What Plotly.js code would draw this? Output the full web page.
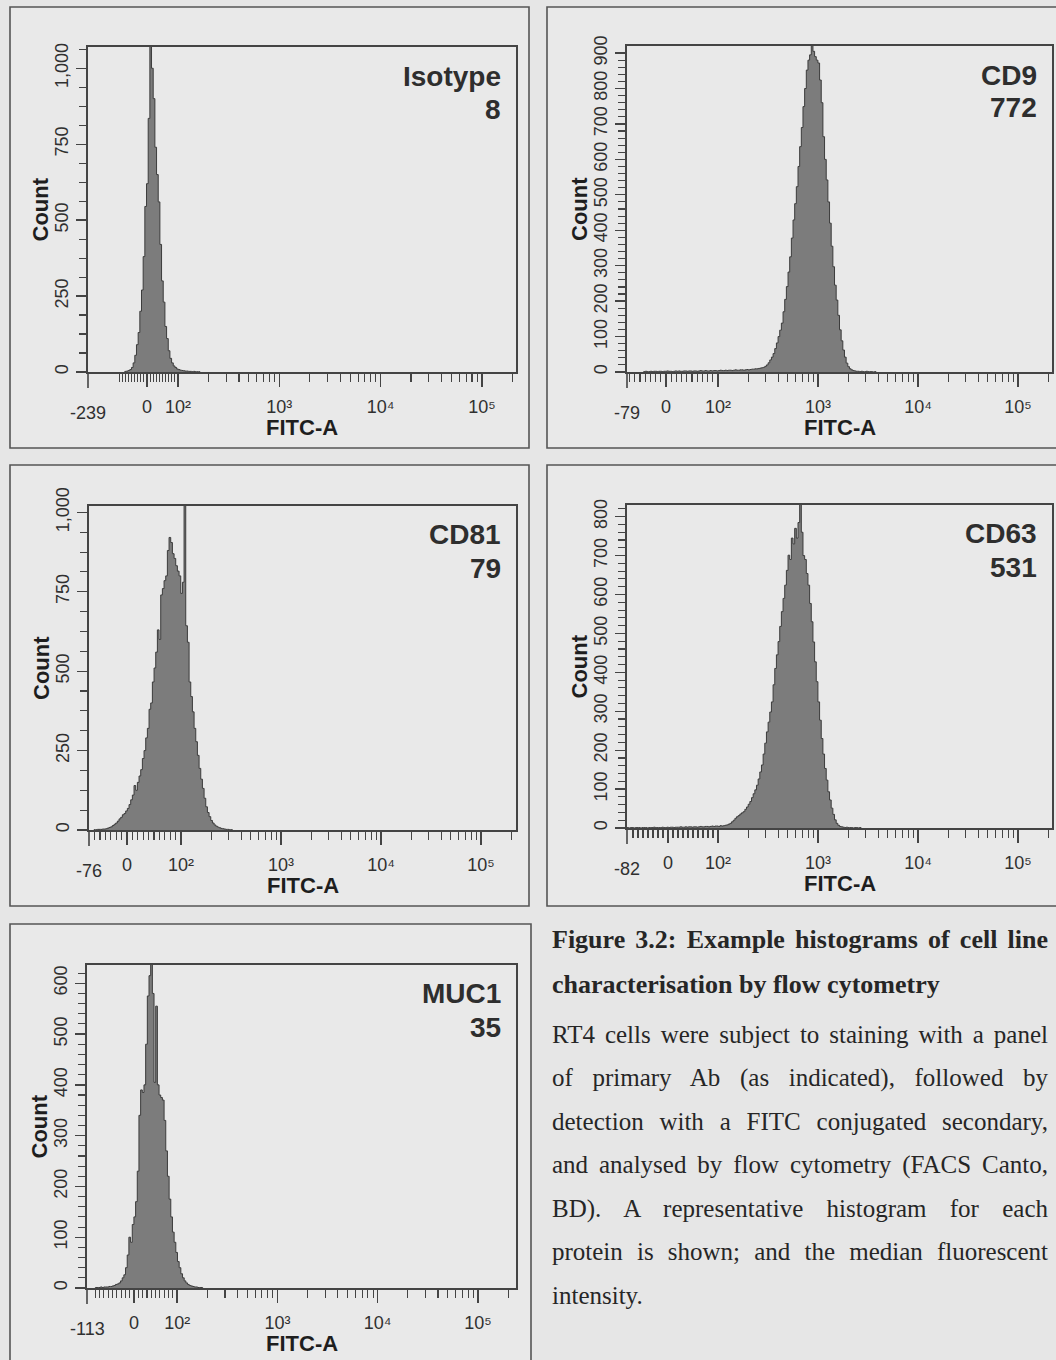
<!DOCTYPE html>
<html><head><meta charset="utf-8">
<script src="https://cdn.plot.ly/plotly-3.0.1.min.js"></script>
<style>
html,body{margin:0;padding:0;background:#e6e6e6;}
#wrap{position:relative;width:1056px;height:1360px;overflow:hidden;}
#chart{position:absolute;left:0;top:0;width:1056px;height:1360px;}
.cap{position:absolute;left:552px;width:496px;height:30px;line-height:30px;font-family:'Liberation Serif','Times New Roman',serif;color:#262626;font-size:25px;}
.j{text-align:justify;text-align-last:justify;}
.b{font-weight:bold;font-size:26px;}
</style></head>
<body><div id="wrap"><div id="chart"></div>
<div class="cap b j" style="top:925px">Figure 3.2: Example histograms of cell line</div>
<div class="cap b" style="top:970px">characterisation by flow cytometry</div>
<div class="cap j" style="top:1020px">RT4 cells were subject to staining with a panel</div>
<div class="cap j" style="top:1063px">of primary Ab (as indicated), followed by</div>
<div class="cap j" style="top:1107px">detection with a FITC conjugated secondary,</div>
<div class="cap j" style="top:1150px">and analysed by flow cytometry (FACS Canto,</div>
<div class="cap j" style="top:1194px">BD). A representative histogram for each</div>
<div class="cap j" style="top:1237px">protein is shown; and the median fluorescent</div>
<div class="cap" style="top:1281px">intensity.</div>
</div>
<script>
// ---------------- data ----------------
const markers = ['Isotype', 'CD9', 'CD81', 'CD63', 'MUC1'];
const medianFI = ['8', '772', '79', '531', '35'];
const axisMin = [-239, -79, -76, -82, -113];
const decadeValues = [0, 100, 1000, 10000, 100000];
const decadeLabels = ['0', '10\u00B2', '10\u00B3', '10\u2074', '10\u2075'];

// histogram counts per display channel (256 channels across each axis)
const isotypeStart = 22;
const isotypeCounts = [2,3,5,8,15,30,55,90,130,200,270,380,545,620,835,1100,1000,900,740,650,560,420,300,230,150,110,70,45,30,20,15,10,8,6,5,4,3,3,2,2,1,2,1,1,1];
const cd9Start = 10;
const cd9Counts = [1,2,1,1,2,1,2,2,1,2, 2,1,2,2,3,2,2,1,2,3, 2,3,2,2,3,3,2,3,3,2, 3,3,2,3,4,3,3,4,3,3,
  4,3,4,4,3,4,5,4,4,5, 4,5,5,4,5,6,5,5,6,6, 5,6,7,6,7,8, 8,9,9,10,11,12,13,16,20,26,34,42,52,66,82,100,118,138,170,205,241,282,325,378,429,475,523,580,636,690,749,800,852,880,895,925,905,890,880,872,824,760,664,600,542,480,420,355,297,245,203,160,119,88,62,42,25,15,9,6,4,3,2,2,1,2,1,1,2,1,1,1,0,1];
const cd81Start = 3;
const cd81Counts = [1,1,2,2,2,3,3,4,6,8,10,14,18,22,28,35,40,48,52,60,68,80,95,110,140,125,150,170,190,225,250,290,320,380,400,466,510,560,630,600,740,760,785,800,880,921,905,870,855,832,815,800,745,780,1100,643,591,466,420,372,320,278,235,194,160,131,100,73,55,42,30,22,16,12,9,7,5,4,3,2,2,1,1];
const cd63Start = 0;
const cd63Counts = [1,0,1,1,0,1,1,1,0,1, 1,1,0,1,1,1,2,1,1,1, 1,2,1,1,2,1,2,2,1,2, 2,2,3,2,2,3,2,3,3,2,
  3,3,2,3,4,3,3,4,4,3, 4,5,4,5,5,4,6,5,6,7, 8,10,12,16,20,25,29,32,36,39, 42,48,54,61,68,78,88,98,110,126,
  144,162,190,218,247,272,298,324,368,410, 445,479,518,556,590,624,662,701,690,745, 730,770,745,785,900,760,700,690,654,624,
  577,530,478,427,376,324,277,230,190,153, 123,93,72,51,35,21,12,7,4,3, 2,1,2,1,1,1,0,1,1,0,1];
const muc1Start = 5;
const muc1Counts = [1,1,1,2,1,2,2,2,3,3,4,5,7,8,10,14,20,26,40,65,100,90,125,140,170,230,340,390,385,400,480,575,615,660,580,405,555,400,380,375,370,330,270,220,175,140,110,90,70,52,40,28,20,14,10,7,5,4,3,2,2,1,1,1];

// count-axis tick labels
const countTicksA = [0, 250, 500, 750, 1000];
const countLabelsA = ['0', '250', '500', '750', '1,000'];
const countTicksB = [0, 100, 200, 300, 400, 500, 600, 700, 800, 900];
const countTicksC = [0, 100, 200, 300, 400, 500, 600, 700, 800];
const countTicksD = [0, 100, 200, 300, 400, 500, 600];

// ---------------- panel configuration (scale + layout) ----------------
const W = 1056, H = 1360;
const panels = [
  {i:0, start: isotypeStart, counts: isotypeCounts, yMax: 1070, yT: countTicksA, yL: countLabelsA, yMinor: 62.5,
   k: 0.306, dmin: -0.582, dmax: 3.643, rect: [88, 47, 516, 372], box: [10, 7, 529, 448]},
  {i:1, start: cd9Start, counts: cd9Counts, yMax: 920, yT: countTicksB, yL: countTicksB.map(String), yMinor: 20,
   k: 0.52, dmin: -0.39, dmax: 3.86, rect: [627, 46, 1052, 372], box: [547, 7, 1080, 448]},
  {i:2, start: cd81Start, counts: cd81Counts, yMax: 1020, yT: countTicksA, yL: countLabelsA, yMinor: 62.5,
   k: 0.54, dmin: -0.38, dmax: 3.89, rect: [89, 506, 516, 830], box: [10, 465, 529, 906]},
  {i:3, start: cd63Start, counts: cd63Counts, yMax: 830, yT: countTicksC, yL: countTicksC.map(String), yMinor: 20,
   k: 0.50, dmin: -0.41, dmax: 3.84, rect: [627, 505, 1052, 828], box: [547, 465, 1080, 906]},
  {i:4, start: muc1Start, counts: muc1Counts, yMax: 636, yT: countTicksD, yL: countTicksD.map(String), yMinor: 20,
   k: 0.43, dmin: -0.469, dmax: 3.81, rect: [87, 965, 516, 1288], box: [10, 924, 531, 1390]}
];

const NCH = 256;
function disp(v, k) {
  const a = Math.abs(v);
  const d = a <= 100 ? k * a / 100 : k + Math.log10(a / 100);
  return v < 0 ? -d : d;
}
function chan(v, p) { return (disp(v, p.k) - p.dmin) / (p.dmax - p.dmin) * NCH; }
const px = x => x / W, py = y => 1 - y / H;

const tickFont = {family: 'Liberation Sans, Arial, DejaVu Sans, sans-serif', size: 18, color: '#303030'};
const titleFont = {family: 'Liberation Sans Narrow, Arial Narrow, Liberation Sans, Arial, sans-serif', size: 22, color: '#1e1e1e'};
const nameFont = {family: 'Liberation Sans, Arial, sans-serif', size: 28, color: '#2e2e2e'};

const traces = [], shapes = [], annotations = [];
const layout = {
  width: W, height: H, margin: {l: 0, r: 0, t: 0, b: 0},
  paper_bgcolor: '#e6e6e6', plot_bgcolor: '#eaeaea', showlegend: false
};

panels.forEach(p => {
  const n = p.i + 1, sfx = n === 1 ? '' : String(n);
  const [L, T, R, B] = p.rect;
  // histogram as filled step line
  const xs = [p.start], ys = [0];
  p.counts.forEach((c, j) => { xs.push(p.start + j); ys.push(c); });
  xs.push(p.start + p.counts.length); ys.push(0);
  traces.push({
    type: 'scatter', mode: 'lines', x: xs, y: ys, xaxis: 'x' + sfx, yaxis: 'y' + sfx,
    line: {shape: 'hv', color: '#3c3c3c', width: 1}, fill: 'tozeroy', fillcolor: '#7c7c7c',
    hoverinfo: 'skip'
  });
  // biexponential tick positions
  const majVals = decadeValues.map(v => chan(v, p));
  const minVals = [];
  for (let e = 1; e <= 5; e++) for (let m = 1; m <= 9; m++) {
    const v = m * Math.pow(10, e);
    if (e >= 2 && m === 1) continue;
    [v, -v].forEach(val => { const c = chan(val, p); if (c > 0.8 && c < NCH - 0.5) minVals.push(c); });
  }
  layout['xaxis' + sfx] = {
    domain: [px(L), px(R)], anchor: 'y' + sfx, range: [0, NCH], fixedrange: true,
    tickmode: 'array', tickvals: majVals, ticktext: decadeLabels,
    ticks: 'outside', ticklen: 13, tickwidth: 1.3, tickcolor: '#444',
    minor: {tickmode: 'array', tickvals: minVals, ticks: 'outside', ticklen: 8, tickwidth: 1.1, tickcolor: '#444', showgrid: false},
    showline: true, mirror: true, linecolor: '#444', linewidth: 1.6,
    showgrid: false, zeroline: false, tickfont: tickFont, ticklabelstandoff: 5
  };
  const yMin = [];
  for (let v = p.yMinor; v < p.yMax; v += p.yMinor) if (!p.yT.includes(v)) yMin.push(v);
  layout['yaxis' + sfx] = {
    domain: [py(B), py(T)], anchor: 'x' + sfx, range: [0, p.yMax], fixedrange: true,
    tickmode: 'array', tickvals: p.yT, ticktext: p.yL, tickangle: -90,
    ticks: 'outside', ticklen: 10, tickwidth: 1.3, tickcolor: '#444',
    minor: {tickmode: 'array', tickvals: yMin, ticks: 'outside', ticklen: 7, tickwidth: 1.1, tickcolor: '#444', showgrid: false},
    showline: true, mirror: true, linecolor: '#444', linewidth: 1.6,
    showgrid: false, zeroline: false, tickfont: tickFont, ticklabelstandoff: 1
  };
  // left end of the FITC axis extends below the frame
  shapes.push({type: 'line', xref: 'paper', yref: 'paper', x0: px(L), x1: px(L), y0: py(B), y1: py(B + 16),
    line: {color: '#444', width: 1.6}});
  // panel frame
  const [bx0, by0, bx1, by1] = p.box;
  shapes.push({type: 'rect', xref: 'paper', yref: 'paper', x0: px(bx0), x1: px(bx1), y0: py(by1), y1: py(by0),
    line: {color: '#555', width: 1.6}, fillcolor: '#e9e9e9', layer: 'below'});
  // texts
  const base = {xref: 'paper', yref: 'paper', showarrow: false};
  annotations.push(Object.assign({}, base, {x: px(R - 13), y: py(T + 29), xanchor: 'right', yanchor: 'middle',
    text: '<b>' + markers[p.i] + '</b>', font: nameFont}));
  annotations.push(Object.assign({}, base, {x: px(R - 13), y: py(T + 62), xanchor: 'right', yanchor: 'middle',
    text: '<b>' + medianFI[p.i] + '</b>', font: nameFont}));
  annotations.push(Object.assign({}, base, {x: px(L - 48), y: py((T + B) / 2), xanchor: 'center', yanchor: 'middle',
    textangle: -90, text: '<b>Count</b>', font: titleFont}));
  annotations.push(Object.assign({}, base, {x: px((L + R) / 2), y: py(B + 55), xanchor: 'center', yanchor: 'middle',
    text: '<b>FITC-A</b>', font: titleFont}));
  annotations.push(Object.assign({}, base, {x: px(L), y: py(B + 41), xanchor: 'center', yanchor: 'middle',
    text: String(axisMin[p.i]), font: tickFont}));
});

layout.shapes = shapes;
layout.annotations = annotations;
Plotly.newPlot('chart', traces, layout, {staticPlot: true, displayModeBar: false});
</script>
</body></html>
